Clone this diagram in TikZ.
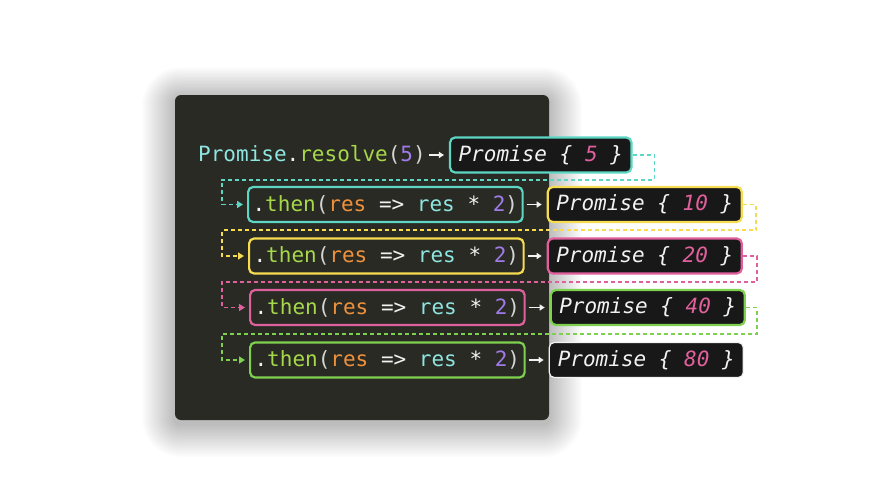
\documentclass[tikz,border=0pt]{standalone}
\usepackage{fontspec}
\setmonofont{DejaVu Sans Mono}
\usetikzlibrary{arrows.meta,positioning,calc}
\definecolor{panel}    {HTML}{292A24}
\definecolor{boxdark}  {HTML}{181818}
\definecolor{tealc}    {HTML}{5DD6C4}
\definecolor{yellowc}  {HTML}{F5DC50}
\definecolor{pinkc}    {HTML}{E0609E}
\definecolor{greenc}   {HTML}{7ED04E}
\definecolor{cyantxt}  {HTML}{8FE5E0}
\definecolor{greentxt} {HTML}{A6D84A}
\definecolor{purpletxt}{HTML}{A07BE8}
\definecolor{orangetxt}{HTML}{F0923C}
\definecolor{pinktxt}  {HTML}{E0609C}
\definecolor{paren}    {HTML}{D4D4D4}
\definecolor{plain}    {HTML}{F2F2F2}
\newcommand{\thencode}{\textcolor{plain}{.}\textcolor{greentxt}{then}\textcolor{paren}{(}\textcolor{orangetxt}{res}\ \textcolor{plain}{=>}\ \textcolor{cyantxt}{res}\ \textcolor{plain}{*}\ \textcolor{purpletxt}{2}\textcolor{paren}{)}}
\newcommand{\promisecode}[1]{\textit{\textcolor{plain}{Promise\ \{\ }\textcolor{pinktxt}{#1}\textcolor{plain}{\ \}}}}
\tikzset{
  codetext/.style   ={font=\ttfamily\fontsize{21}{25}\selectfont, inner sep=0pt},
  thenbox/.style    ={codetext, draw=#1, line width=2.2pt, rounded corners=5pt,
                      inner xsep=4.5pt, minimum height=35pt},
  promisebox/.style ={codetext, draw=#1, fill=boxdark, line width=2.2pt, rounded corners=5pt,
                      inner xsep=8.5pt, minimum height=35pt},
  flowarr/.style    ={-{Triangle[length=5pt,width=6pt]}, line width=1.6pt, color=plain,
                      shorten <=3pt, shorten >=5pt},
  linkarr/.style    ={-{Triangle[length=6pt,width=7pt]}, line width=1.6pt, color=#1,
                      dash pattern=on 4pt off 3pt, shorten >=4pt},
}
\begin{document}
\begin{tikzpicture}[x=1pt,y=-1pt]
        \useasboundingbox (0,0) rectangle (880,495);
        \fill[white] (0,0) rectangle (880,495);
        % editor panel with soft shadow
        \foreach \i in {1,...,22}
          \fill[black, opacity=0.011, rounded corners={(6+1.5*\i)*1pt}]
            (175-1.5*\i,98-1.4*\i) rectangle (549+1.5*\i,424+1.5*\i);
        \fill[panel, rounded corners=6pt] (175,95) rectangle (549,420);
        % code lines
        \node[codetext, anchor=west] (r0) at (198,155)
          {\textcolor{cyantxt}{Promise}\textcolor{plain}{.}\textcolor{greentxt}{resolve}\textcolor{paren}{(}\textcolor{purpletxt}{5}\textcolor{paren}{)}};
        \node[promisebox=tealc, right=23pt of r0] (p0) {\promisecode{5}};
        \node[thenbox=tealc, anchor=west] (t1) at (247,204.5) {\thencode};
        \node[promisebox=yellowc, right=23pt of t1] (p1) {\promisecode{10}};
        \node[thenbox=yellowc, anchor=west] (t2) at (248,256) {\thencode};
        \node[promisebox=pinkc, right=22pt of t2] (p2) {\promisecode{20}};
        \node[thenbox=pinkc, anchor=west] (t3) at (249,307.5) {\thencode};
        \node[promisebox=greenc, right=24pt of t3] (p3) {\promisecode{40}};
        \node[thenbox=greenc, anchor=west] (t4) at (249,360) {\thencode};
        \node[promisebox=plain, line width=1.2pt, right=23pt of t4] (p4) {\promisecode{80}};
        % result arrows
        \draw[flowarr] (r0.east) -- (p0.west);
        \draw[flowarr] (t1.east) -- (p1.west);
        \draw[flowarr] (t2.east) -- (p2.west);
        \draw[flowarr] (t3.east) -- (p3.west);
        \draw[flowarr] (t4.east) -- (p4.west);
        % chaining links
        \coordinate (rail) at (222,0);
        \coordinate (g1) at ($(p0.south)!.5!(t1.north)$);
        \coordinate (g2) at ($(p1.south)!.5!(t2.north)$);
        \coordinate (g3) at ($(p2.south)!.5!(t3.north)$);
        \coordinate (g4) at ($(p3.south)!.5!(t4.north)$);
        \draw[linkarr=tealc]   (p0.east) -- ++(22,0) |- (g1 -| rail) |- (t1.west);
        \draw[linkarr=yellowc] (p1.east) -- ++(13,0) |- (g2 -| rail) |- (t2.west);
        \draw[linkarr=pinkc]   (p2.east) -- ++(14,0) |- (g3 -| rail) |- (t3.west);
        \draw[linkarr=greenc]  (p3.east) -- ++(11,0) |- (g4 -| rail) |- (t4.west);
      \end{tikzpicture}
\end{document}
